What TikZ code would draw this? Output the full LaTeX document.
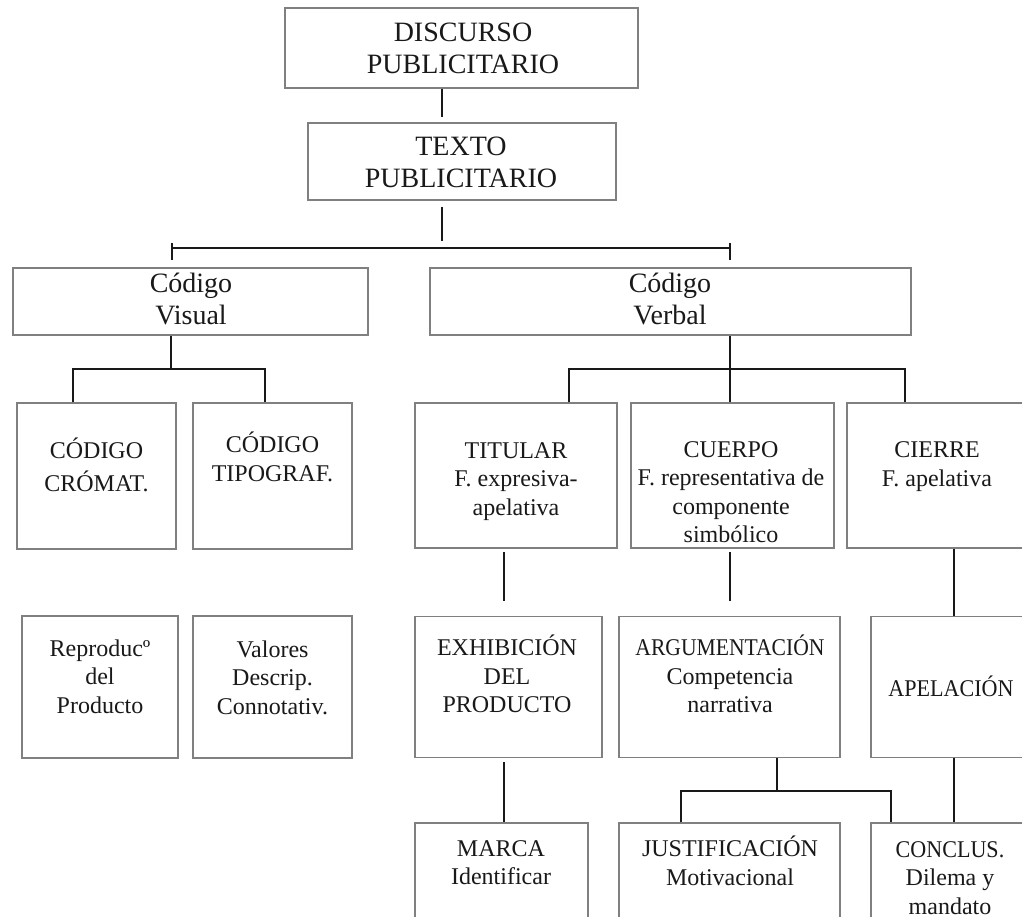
\documentclass[tikz,border=0pt]{standalone}
\usepackage{fontspec}
\setmainfont{Liberation Serif}
\usepackage{graphicx}
\definecolor{boxgray}{RGB}{128,128,128}
\definecolor{ink}{RGB}{25,25,25}
\tikzset{
  box/.style={draw=boxgray, line width=1.5pt, inner sep=0pt, rectangle},
  conn/.style={draw=ink, line width=1.8pt},
  txtL/.style={align=center, inner sep=0pt, text=ink, font=\fontsize{28}{32.5}\selectfont},
  txtS/.style={align=center, inner sep=0pt, text=ink, font=\fontsize{24}{28.5}\selectfont},
  txtW/.style={align=center, inner sep=0pt, text=ink, font=\fontsize{24}{33}\selectfont},
}
\begin{document}
\begin{tikzpicture}[x=1pt,y=-1pt]
\useasboundingbox (0,0) rectangle (1022,917);
\fill[white] (0,0) rectangle (1022,917);
\clip (0,0) rectangle (1022,917);

% ---- boxes ----
\node[box, minimum width=353pt, minimum height=80pt] (disc) at (461.5,48) {};
\node[box, minimum width=308pt, minimum height=77pt] (texto) at (462,161.5) {};
\node[box, minimum width=355pt, minimum height=67pt] (visual) at (190.5,301.5) {};
\node[box, minimum width=481pt, minimum height=67pt] (verbal) at (670.5,301.5) {};

\node[box, minimum width=159pt, minimum height=146pt] (cromat) at (96.5,476) {};
\node[box, minimum width=159pt, minimum height=146pt] (tipo) at (272.5,476) {};
\node[box, minimum width=202pt, minimum height=145pt] (titular) at (516,475.5) {};
\node[box, minimum width=203pt, minimum height=145pt] (cuerpo) at (732.5,475.5) {};
\node[box, minimum width=180pt, minimum height=145pt] (cierre) at (937,475.5) {};

\node[box, minimum width=156pt, minimum height=142pt] (reprod) at (100,687) {};
\node[box, minimum width=159pt, minimum height=142pt] (valores) at (272.5,687) {};
\node[box, minimum width=187pt, minimum height=141pt] (exhib) at (508.5,687) {};
\node[box, minimum width=221pt, minimum height=141pt] (arg) at (729.5,687) {};
\node[box, minimum width=166pt, minimum height=141pt] (apel) at (954,687) {};

\node[box, minimum width=173pt, minimum height=117pt] (marca) at (501.5,881.5) {};
\node[box, minimum width=221pt, minimum height=117pt] (justif) at (729.5,881.5) {};
\node[box, minimum width=166pt, minimum height=117pt] (conclus) at (954,881.5) {};

% ---- texts ----
\node[txtL] (tdisc) at (463,51) {\strut DISCURSO\\\strut PUBLICITARIO};
\node[txtL] (ttexto) at (461,165) {\strut TEXTO\\\strut PUBLICITARIO};
\node[txtL] (tvisual) at (191,302) {\strut Código\\\strut Visual};
\node[txtL] (tverbal) at (670,302) {\strut Código\\\strut Verbal};

\node[txtW] (tcromat) at (96.5,468) {\strut CÓDIGO\\\strut CRÓMAT.};
\node[txtS] (ttipo) at (272.5,461) {\strut CÓDIGO\\\strut TIPOGRAF.};
\node[txtS] (ttitular) at (516,481) {\strut TITULAR\\\strut F. expresiva-\\\strut apelativa};
\node[txtS] (tcuerpo) at (731,494.5) {\strut CUERPO\\\strut F. representativa de\\\strut componente\\\strut simbólico};
\node[txtS] (tcierre) at (937,466.5) {\strut CIERRE\\\strut F. apelativa};

\node[txtS] (treprod) at (100,679) {\strut Reproducº\\\strut del\\\strut Producto};
\node[txtS] (tvalores) at (272.5,680) {\strut Valores\\\strut Descrip.\\\strut Connotativ.};
\node[txtS] (texhib) at (507,678) {\strut EXHIBICIÓN\\\strut DEL\\\strut PRODUCTO};
\node[txtS] (targ) at (730,678) {\strut\scalebox{0.9}[1]{ARGUMENTACIÓN}\\\strut Competencia\\\strut narrativa};
\node[txtS] (tapel) at (951,690) {\strut\scalebox{0.92}[1]{APELACIÓN}};

\node[txtS] (tmarca) at (501,865) {\strut MARCA\\\strut Identificar};
\node[txtS] (tjustif) at (730,865) {\strut JUSTIFICACIÓN\\\strut Motivacional};
\node[txtS] (tconclus) at (950,880) {\strut\scalebox{0.92}[1]{CONCLUS.}\\\strut Dilema y\\\strut mandato};

% ---- connectors ----
\coordinate (j0) at (442,117);
\draw[conn] (disc.south -| j0) -- (j0);
\coordinate (t1) at (442,207);
\coordinate (t2) at (442,241);
\draw[conn] (t1) -- (t2);
\coordinate (bl) at (172,248);
\coordinate (br) at (730,248);
\draw[conn] (bl) -- (br);
\draw[conn] ([yshift=5pt]bl) -- ([yshift=-12pt]bl);
\draw[conn] ([yshift=5pt]br) -- ([yshift=-12pt]br);

\coordinate (vj) at (171,369);
\coordinate (vl) at (73,369);
\coordinate (vr) at (265,369);
\draw[conn] (visual.south -| vj) -- (vj);
\draw[conn] (cromat.north -| vl) -- (vl) -- (vr) -- (tipo.north -| vr);

\coordinate (wj) at (730,369);
\coordinate (wl) at (569,369);
\coordinate (wr) at (905,369);
\draw[conn] (verbal.south -| wj) -- (cuerpo.north -| wj);
\draw[conn] (titular.north -| wl) -- (wl) -- (wr) -- (cierre.north -| wr);

\coordinate (a0) at (504,552);
\coordinate (a1) at (504,601);
\draw[conn] (a0) -- (a1);
\coordinate (b0) at (730,552);
\coordinate (b1) at (730,601);
\draw[conn] (b0) -- (b1);
\coordinate (c1) at (954,600);
\draw[conn] (cierre.south -| c1) -- (apel.north -| c1);

\coordinate (d0) at (504,762);
\draw[conn] (d0) -- (marca.north -| d0);
\coordinate (e0) at (777,791);
\coordinate (el) at (681,791);
\coordinate (er) at (891,791);
\draw[conn] (arg.south -| e0) -- (e0);
\draw[conn] (justif.north -| el) -- (el) -- (er) -- (conclus.north -| er);
\draw[conn] (apel.south -| c1) -- (conclus.north -| c1);
\end{tikzpicture}
\end{document}
